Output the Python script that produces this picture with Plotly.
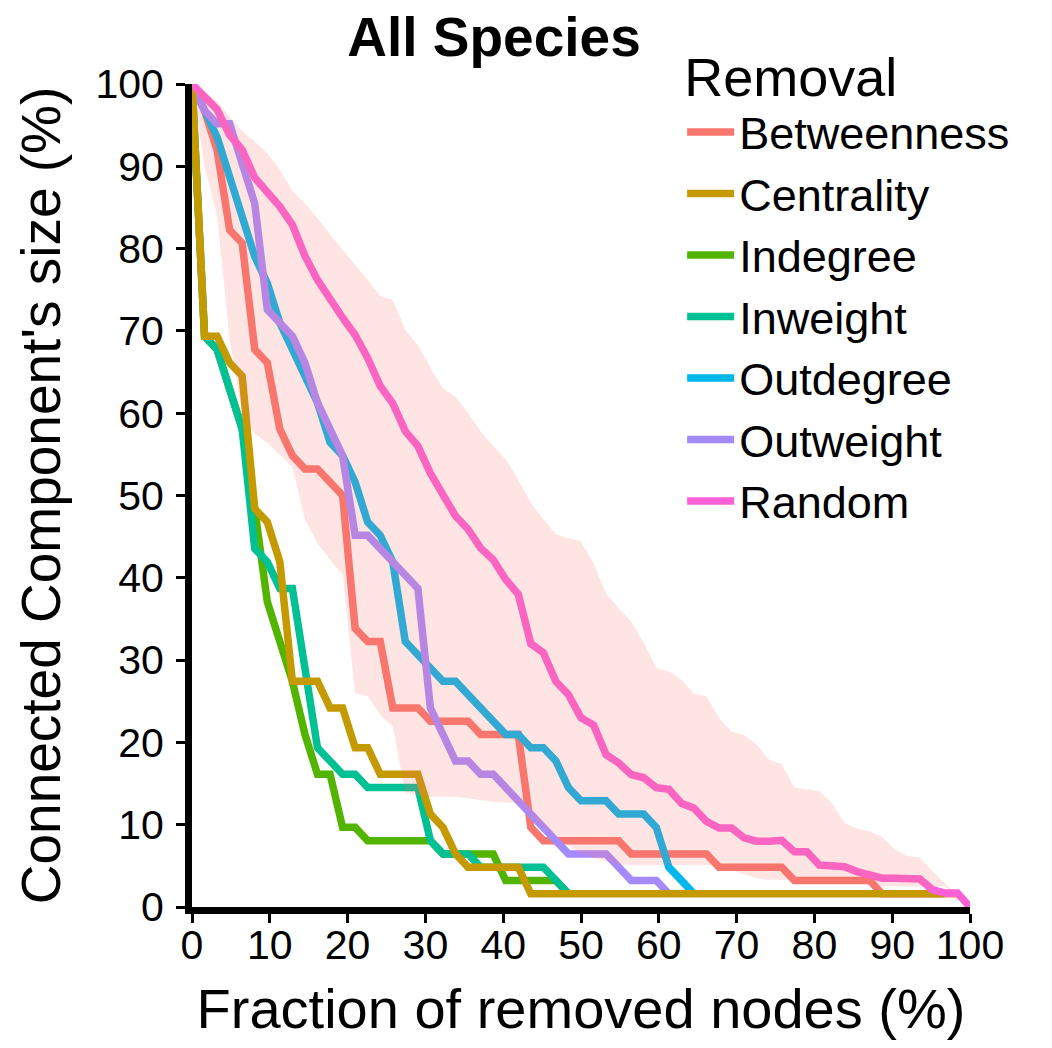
import plotly.graph_objects as go

N_NODES = 62  # nodes in the network; x = removed / N_NODES * 100

# Largest connected component size (number of nodes) after k removals, k = 0, 1, 2, ...
betweenness = [62, 60, 57, 51, 50, 42, 41, 36, 34, 33, 33, 32, 31, 21, 20, 20, 15, 15, 15, 14,
               14, 14, 14, 13, 13, 13, 13, 6, 5, 5, 5, 5, 5, 5, 5, 4, 4, 4, 4, 4,
               4, 4, 3, 3, 3, 3, 3, 3, 2, 2, 2, 2, 2, 2, 2, 1, 1, 1, 1, 1,
               1, 1]
centrality = [62, 43, 43, 41, 40, 30, 29, 26, 17, 17, 17, 15, 15, 12, 12, 10, 10, 10, 10, 7,
              6, 4, 3, 3, 3, 3, 3, 1, 1, 1, 1, 1, 1, 1, 1, 1, 1, 1, 1, 1,
              1, 1, 1, 1, 1, 1, 1, 1, 1, 1, 1, 1, 1, 1, 1, 1, 1, 1, 1, 1, 1]
indegree = [62, 43, 42, 39, 36, 30, 23, 20, 17, 13, 10, 10, 6, 6, 5, 5, 5, 5, 5, 5,
            4, 4, 4, 4, 4, 2, 2, 2, 2, 2, 1]
inweight = [62, 43, 42, 39, 36, 27, 26, 24, 24, 18, 12, 11, 10, 10, 9, 9, 9, 9, 9, 5,
            4, 4, 4, 3, 3, 3, 3, 3, 3, 2, 1]
outdegree = [62, 60, 58, 55, 52, 49, 47, 44, 42, 40, 38, 35, 34, 32, 29, 28, 26, 20, 19, 18,
             17, 17, 16, 15, 14, 13, 13, 12, 12, 11, 9, 8, 8, 8, 7, 7, 7, 6, 3, 2, 1]
outweight = [62, 60, 59, 59, 56, 53, 45, 44, 43, 41, 38, 36, 34, 28, 28, 27, 26, 25, 24, 15,
             13, 11, 11, 10, 10, 9, 8, 7, 6, 5, 4, 4, 4, 4, 3, 2, 2, 2, 1]

# Random removal: mean and envelope (percent of nodes), k = 0..62
random_mean = [100, 98.3, 96.9, 93.8, 92.0, 88.6, 87.0, 85.1, 82.9, 79.1,
               76.2, 73.8, 71.6, 69.5, 66.7, 63.3, 61.2, 57.8, 56.0, 52.7,
               50.1, 47.5, 45.9, 43.6, 42.2, 39.8, 38.0, 32.0, 30.9, 27.4,
               25.8, 23.0, 22.1, 18.5, 17.5, 16.1, 15.7, 14.5, 14.3, 12.6,
               12.0, 10.4, 9.6, 9.6, 8.4, 8.0, 8.0, 8.1, 6.7, 6.7,
               5.1, 4.9, 4.9, 4.3, 3.8, 3.5, 3.5, 3.5, 3.4, 2.1,
               1.7, 1.7, 0.0]
random_upper = [100, 99.0, 97.9, 96.0, 94.3, 93.0, 91.6, 89.6, 87.0, 85.5,
                83.7, 81.7, 79.8, 78.0, 76.2, 74.2, 73.8, 70.1, 68.3, 65.5,
                63.0, 62.0, 60.0, 57.8, 56.0, 54.4, 51.9, 49.1, 47.1, 45.3,
                44.8, 44.4, 41.8, 38.1, 36.3, 34.7, 32.1, 29.0, 28.6, 27.6,
                25.9, 25.6, 23.0, 21.3, 20.9, 19.7, 17.9, 17.3, 14.5, 14.3,
                14.1, 12.6, 10.2, 9.5, 9.2, 8.5, 7.0, 6.2, 6.0, 4.3,
                2.9, 1.5, 0.0]
random_lower = [100, 90.0, 84.0, 69.0, 60.0, 57.5, 56.4, 55.0, 53.5, 47.1,
                44.2, 42.2, 40.4, 26.0, 25.6, 23.4, 21.9, 13.9, 13.6, 13.4,
                13.4, 13.4, 13.2, 13.0, 12.8, 12.7, 12.6, 11.0, 9.6, 8.6,
                7.5, 6.5, 6.0, 5.5, 5.2, 5.1, 5.1, 5.1, 5.1, 5.1,
                5.1, 5.1, 5.1, 4.5, 4.0, 3.5, 3.3, 3.3, 3.3, 3.3,
                3.3, 3.3, 3.3, 3.3, 3.3, 2.5, 2.5, 2.5, 2.5, 2.5,
                2.5, 1.5, 0.0]

x_ticks = [0, 10, 20, 30, 40, 50, 60, 70, 80, 90, 100]
y_ticks = [0, 10, 20, 30, 40, 50, 60, 70, 80, 90, 100]

colors = {
    "Betweenness": "#F8766D",
    "Centrality": "#C49A00",
    "Indegree": "#53B400",
    "Inweight": "#00C094",
    "Outdegree": "#00B6EB",
    "Outweight": "#A58AFF",
    "Random": "#FB61D7",
}
legend_order = ["Betweenness", "Centrality", "Indegree", "Inweight", "Outdegree", "Outweight", "Random"]

def pct_x(n):
    return [k / N_NODES * 100 for k in range(n)]

def pct_y(vals):
    return [v / N_NODES * 100 for v in vals]

LW = 7.5
fig = go.Figure()

# drawing order (bottom to top) as in the reference; legend order via legendrank
draw = [
    ("Betweenness", pct_y(betweenness)),
    ("Indegree", pct_y(indegree)),
    ("Inweight", pct_y(inweight)),
    ("Outdegree", pct_y(outdegree)),
    ("Outweight", pct_y(outweight)),
    ("Centrality", pct_y(centrality)),
    ("Random", random_mean),
]
for name, ys in draw:
    fig.add_trace(go.Scatter(
        x=pct_x(len(ys)), y=ys, mode="lines", name=name,
        line=dict(color=colors[name], width=LW),
        legendrank=legend_order.index(name) + 1,
        hoverinfo="skip",
    ))

xr = pct_x(len(random_upper))
fig.add_trace(go.Scatter(
    x=xr + xr[::-1], y=random_upper + random_lower[::-1],
    fill="toself", fillcolor="rgba(248,118,109,0.2)",
    line=dict(width=0), mode="lines", showlegend=False, hoverinfo="skip",
))

FONT = "Liberation Sans, Arial, sans-serif"
axis_common = dict(
    showgrid=False, zeroline=False, showline=True, linecolor="black", linewidth=7,
    ticks="outside", ticklen=9, tickwidth=3, tickcolor="black",
    tickfont=dict(family=FONT, size=41, color="black"),
    mirror=False, automargin=False,
)
fig.update_xaxes(range=[0, 100], tickvals=x_ticks,
                 title=dict(text="Fraction of removed nodes (%)", font=dict(family=FONT, size=56, color="black"), standoff=24),
                 ticklabelstandoff=-13, **axis_common)
fig.update_yaxes(range=[0, 100], tickvals=y_ticks,
                 title=dict(text="Connected Component's size (%)", font=dict(family=FONT, size=55, color="black"), standoff=20),
                 ticklabelstandoff=4, **axis_common)

# the page places the figure 8 px from its top-left corner; sizes account for it
fig.update_layout(
    width=1044, height=1040,
    margin=dict(l=184, r=82, t=76, b=141),
    paper_bgcolor="white", plot_bgcolor="white",
    font=dict(family=FONT, color="black"),
    title=dict(text="<b>All Species</b>", font=dict(family=FONT, size=55, color="black"),
               x=486 / 1044, xref="container", xanchor="center",
               y=1 - 29 / 1040, yref="container", yanchor="middle"),
    legend=dict(
        title=dict(text="Removal", font=dict(family=FONT, size=54, color="black")),
        font=dict(family=FONT, size=45, color="black"),
        x=0.630, y=1.0705, xanchor="left", yanchor="top",
        bgcolor="rgba(0,0,0,0)", borderwidth=0,
        traceorder="normal", itemwidth=47,
    ),
    showlegend=True,
)

fig.write_html("out.html")
